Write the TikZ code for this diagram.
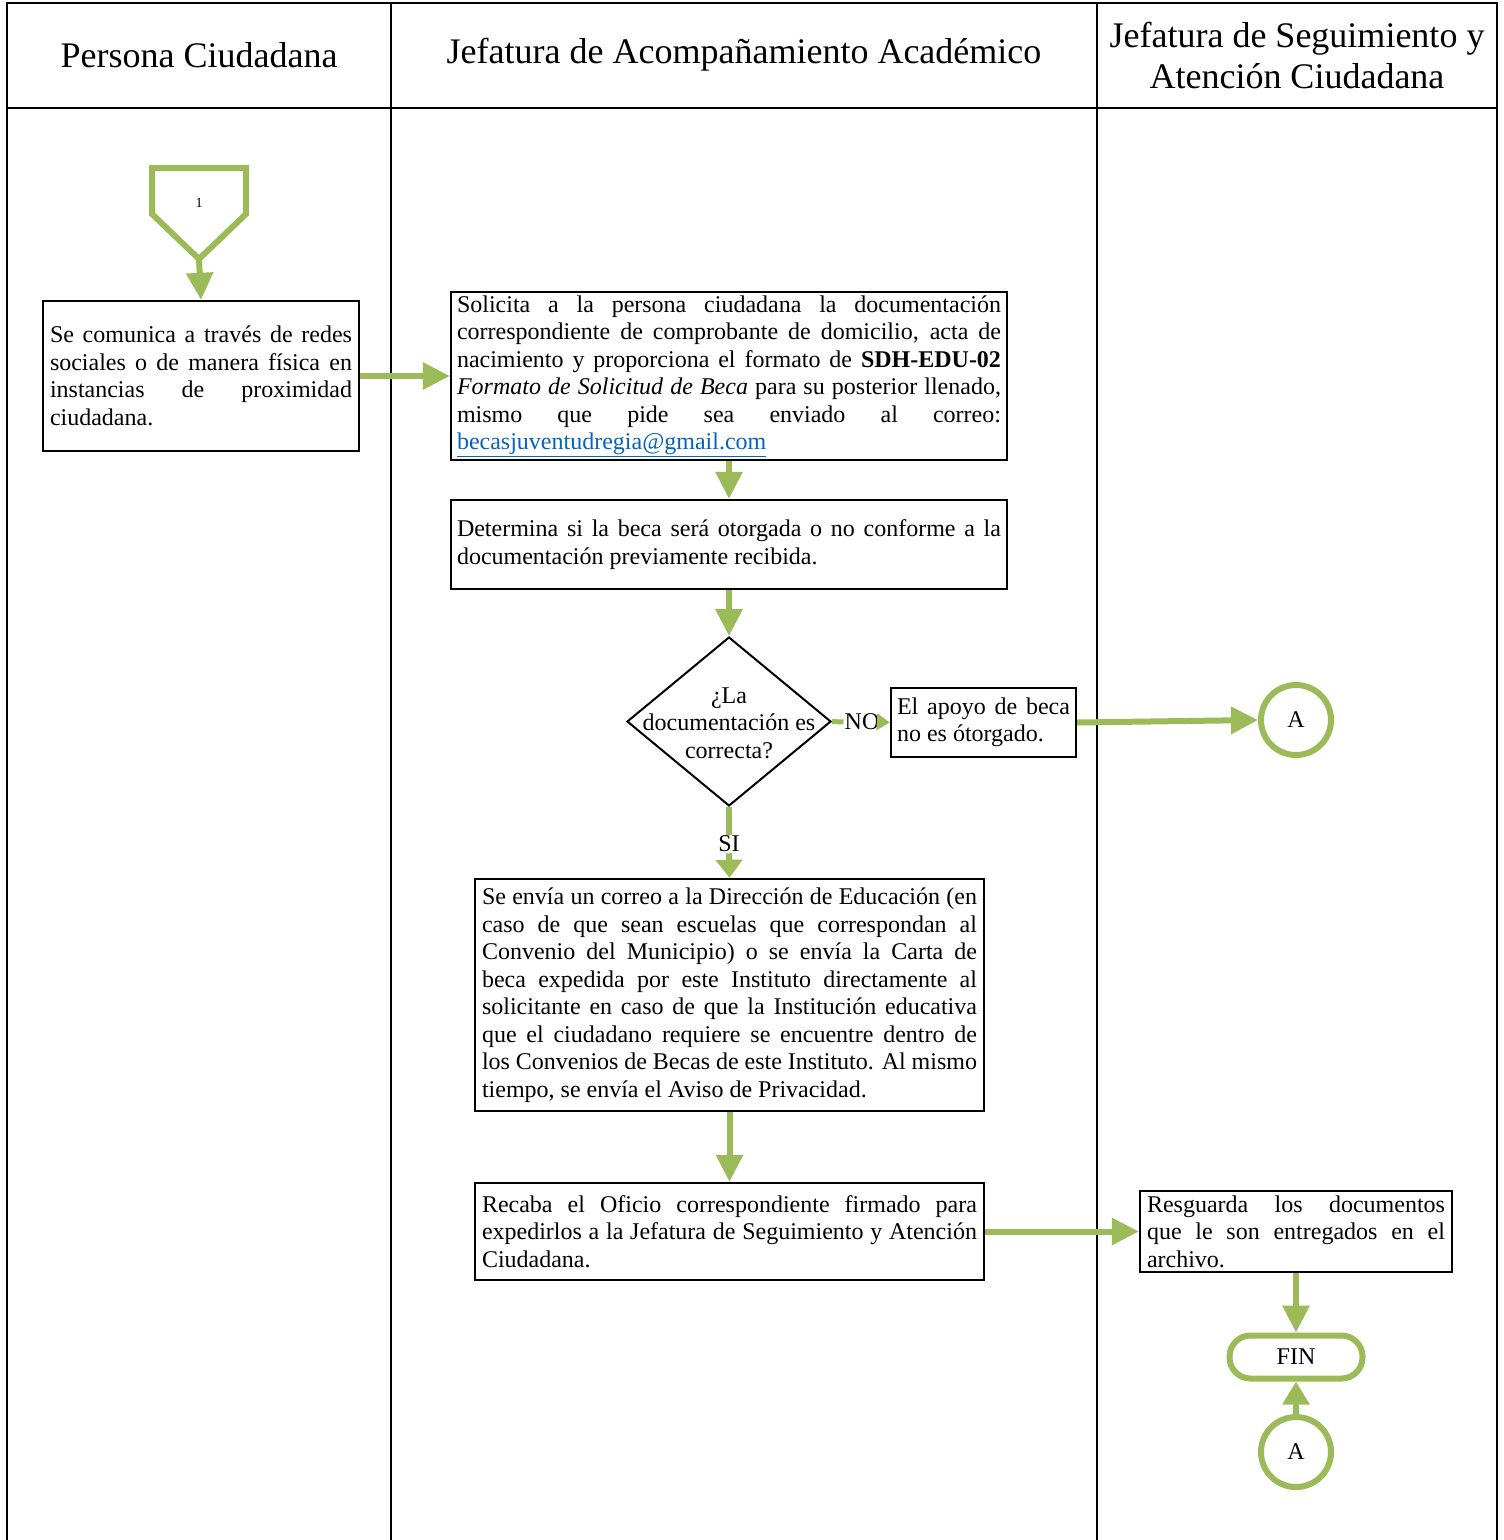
\documentclass[tikz,border=0pt]{standalone}
\usepackage{fontspec}
\setmainfont{Liberation Serif}
\usetikzlibrary{arrows.meta,shapes.geometric}
\definecolor{flowgreen}{HTML}{9BBB59}
\definecolor{linkblue}{HTML}{0563C1}
\hbadness=10000
\newcommand\bodyfont{\fontsize{24}{27.5}\selectfont}
\newcommand\headfont{\fontsize{36}{41}\selectfont}
\begin{document}
\begin{tikzpicture}[x=1pt,y=-1pt,
  lane/.style={draw=black, line width=2.2pt},
  proc/.style={draw=black, line width=2.4pt, rectangle, inner xsep=7pt, inner ysep=0pt, align=justify, font=\bodyfont},
  flow/.style={draw=flowgreen, fill=flowgreen, line width=6pt, -{Triangle[length=27pt,width=26pt]}},
  flowline/.style={draw=flowgreen, line width=6pt},
  conn/.style={circle, draw=flowgreen, line width=6pt, minimum size=70pt, inner sep=0pt, font=\bodyfont},
  lbl/.style={font=\bodyfont, inner sep=1pt}
]
\useasboundingbox (0,0) rectangle (1504,1540);
% lanes
\draw[lane] (7,1540) -- (7,3) -- (1497,3) -- (1497,1540);
\draw[lane] (391,3) -- (391,1540);
\draw[lane] (1097,3) -- (1097,1540);
\draw[lane] (7,108) -- (1497,108);
\node[font=\headfont] (h1) at (199,55) {Persona Ciudadana};
\node[font=\headfont] (h2) at (744,55) {Jefatura de Acompañamiento Académico};
\node[font=\headfont, align=center] (h3) at (1297,55) {Jefatura de Seguimiento y\\Atención Ciudadana};

% off-page connector 1
\draw[flowline, line join=miter] (152,168) -- (246,168) -- (246,214) -- (199,259) -- (152,214) -- cycle;
\coordinate (c1tip) at (199,259);
\node[font=\fontsize{14}{16}\selectfont] (c1) at (199,203) {1};

% process boxes
\node[proc, minimum width=316pt, minimum height=150pt, text width=302pt] (box1) at (201,376)
 {Se comunica a través de redes\linebreak sociales o de manera física en\linebreak instancias de proximidad\linebreak ciudadana.};
\node[proc, minimum width=556pt, minimum height=168pt, text width=544pt, inner xsep=6pt] (box2) at (729,376)
 {Solicita a la persona ciudadana la documentación\linebreak correspondiente de comprobante de domicilio, acta de\linebreak nacimiento y proporciona el formato de \textbf{SDH-EDU-02}\linebreak \textit{Formato de Solicitud de Beca} para su posterior llenado,\linebreak mismo que pide sea enviado al correo:\linebreak {\color{linkblue}\underline{becasjuventudregia@gmail.com}}};
\node[proc, minimum width=556pt, minimum height=89pt, text width=544pt, inner xsep=6pt] (box3) at (729,544.5)
 {Determina si la beca será otorgada o no conforme a la\linebreak documentación previamente recibida.};
\node[diamond, draw=black, line width=2pt, minimum width=204pt, minimum height=169pt, inner sep=0pt] (dec) at (729,721.5) {};
\node[lbl, align=center] (dectxt) at (729,723) {¿La\\documentación es\\correcta?};
\node[lbl] (no) at (862,722) {NO};
\node[proc, minimum width=185pt, minimum height=69pt, text width=173pt, inner xsep=6pt] (box4) at (983.5,722.5)
 {El apoyo de beca\linebreak no es ótorgado.};
\node[conn] (a1) at (1296,720) {A};
\node[lbl] (si) at (729,844) {SI};
\node[proc, minimum width=509pt, minimum height=232pt, text width=495pt] (box5) at (729.5,995)
 {Se envía un correo a la Dirección de Educación (en\linebreak caso de que sean escuelas que correspondan al\linebreak Convenio del Municipio) o se envía la Carta de\linebreak beca expedida por este Instituto directamente al\linebreak solicitante en caso de que la Institución educativa\linebreak que el ciudadano requiere se encuentre dentro de\linebreak los Convenios de Becas de este Instituto. Al mismo\linebreak tiempo, se envía el Aviso de Privacidad.};
\node[proc, minimum width=509pt, minimum height=97pt, text width=495pt] (box6) at (729.5,1231.5)
 {Recaba el Oficio correspondiente firmado para\linebreak expedirlos a la Jefatura de Seguimiento y Atención\linebreak Ciudadana.};
\node[proc, minimum width=312pt, minimum height=81pt, text width=298pt] (box7) at (1296,1231.5)
 {Resguarda los documentos\linebreak que le son entregados en el\linebreak archivo.};
\node[draw=flowgreen, line width=6pt, rectangle, rounded corners=21pt, minimum width=133pt, minimum height=43pt, inner sep=0pt, font=\bodyfont] (fin) at (1296,1357) {FIN};
\node[conn] (a2) at (1296,1452) {A};

% connectors
\draw[flow] (c1tip) -- (box1.north);
\draw[flow] (box1.east) -- (box2.west);
\draw[flow] (box2.south) -- (box3.north);
\draw[flow] (box3.south) -- (dec.north);
\draw[flowline, line width=5pt] (dec.east) -- (no.west);
\draw[flow, line width=5pt, -{Triangle[length=13pt,width=16pt]}] (no.east) -- (box4.west);
\draw[flow] (box4.east) -- (a1.west);
\draw[flowline] (dec.south) -- (si.north);
\draw[flow, -{Triangle[length=18pt,width=26pt]}] (si.south) -- (box5.north);
\draw[flow] (box5.south) -- (box6.north);
\draw[flow] (box6.east) -- (box7.west);
\draw[flow] (box7.south) -- (fin.north);
\draw[flow, -{Triangle[length=23pt,width=26pt]}] (a2.north) -- (fin.south);
\end{tikzpicture}
\end{document}
